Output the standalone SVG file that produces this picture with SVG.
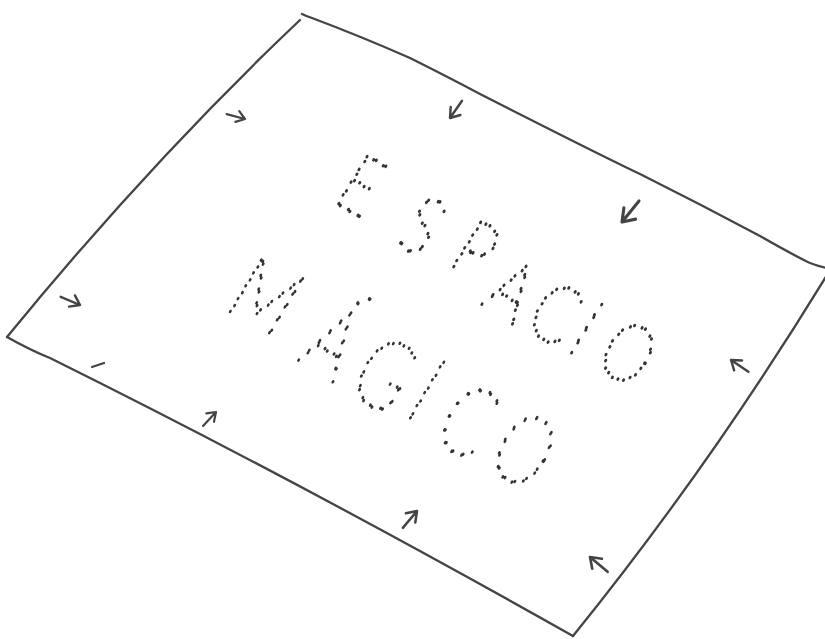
<svg xmlns="http://www.w3.org/2000/svg" xmlns:xlink="http://www.w3.org/1999/xlink" width="825" height="639" viewBox="0 0 825 639">
<style>
.ink{fill:none;stroke:#444;stroke-width:2.3;stroke-linecap:round;stroke-linejoin:round}
.dots{font-family:Lato,"DejaVu Sans",sans-serif;font-weight:100;fill:none;stroke:#333;stroke-width:3.8;stroke-linecap:round;stroke-dasharray:0 15;text-anchor:middle}
</style>
<defs>
<path id="arr" d="M-20,0 L0,0 M-8,-6.5 L0,0 L-9,5.5"/>
</defs>
<rect width="825" height="639" fill="#fff"/>
<g id="sheet">
<path class="ink" d="M302,14 Q306,16 312,18 Q360,36 410,58 Q450,78 480,94 Q600,155 640,174 Q700,204 760,236 Q795,256 810,263 Q820,267 832,269"/>
<path class="ink" d="M300,20 Q150,162 7,337"/>
<path class="ink" d="M7,337 Q30,350 50,358 Q300,482 573,636"/>
<path class="ink" d="M573,636 Q712,464 830,270"/>
</g>
<g id="connectors">
<use href="#arr" class="ink" transform="translate(245,119) rotate(15) scale(0.95)"/>
<use href="#arr" class="ink" transform="translate(80,305) rotate(23) scale(1.05)"/>
<use href="#arr" class="ink" transform="translate(450,118) rotate(125) scale(1.05)"/>
<use href="#arr" class="ink" transform="translate(622,222) rotate(129) scale(1.35)"/>
<use href="#arr" class="ink" transform="translate(731,360) rotate(214) scale(1.05)"/>
<use href="#arr" class="ink" transform="translate(590,557) rotate(220) scale(1.15)"/>
<use href="#arr" class="ink" transform="translate(417,511) rotate(-50) scale(1.1)"/>
<use href="#arr" class="ink" transform="translate(216,412) rotate(-47) scale(0.95)"/>
<path class="ink" d="M92,367 L104,363"/>
</g>
<g id="title1" transform="translate(362,185) rotate(32) scale(0.75,1)">
<text class="dots" font-size="82" x="0 97 174 244 309 355 420" y="29 31 24 38 35 31 30">ESPACIO</text>
</g>
<g id="title2" transform="translate(266,296) rotate(31) scale(0.7,1)">
<text class="dots" font-size="98" x="0 116 203 266 339 430" y="35 39 40 30 37 33">MÁGICO</text>
</g>
</svg>
